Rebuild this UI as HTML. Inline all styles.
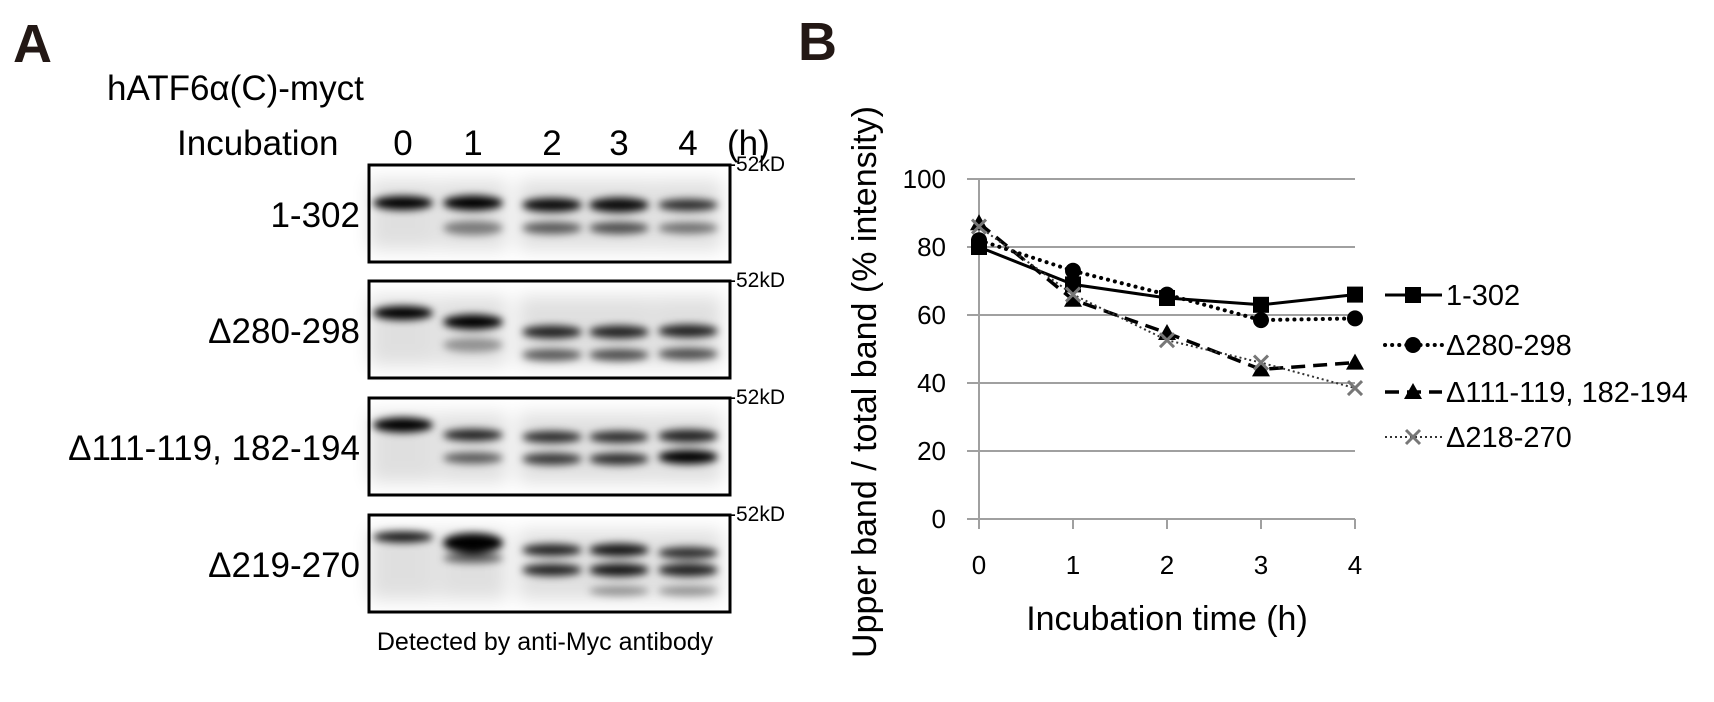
<!DOCTYPE html>
<html><head><meta charset="utf-8"><style>
html,body{margin:0;padding:0;background:#fff;}
body{width:1714px;height:702px;overflow:hidden;position:relative;font-family:"Liberation Sans",Arial,sans-serif;}
svg{position:absolute;left:0;top:0;}
</style></head><body>
<svg id="fig" width="1714" height="702" viewBox="0 0 1714 702">
<defs>
<filter id="blur" x="-50%" y="-50%" width="200%" height="200%"><feGaussianBlur stdDeviation="4"/></filter>
<filter id="blur2" x="-50%" y="-50%" width="200%" height="200%"><feGaussianBlur stdDeviation="9"/></filter>
</defs>
<g id="panelA">
<text x="13" y="62" font-size="54" font-weight="bold" fill="#231815">A</text>
<text x="107" y="100" font-size="35">hATF6α(C)-myct</text>
<text x="177" y="155" font-size="35">Incubation</text>
<g id="laneLabels" font-size="35" text-anchor="middle"></g>
<text x="727" y="155" font-size="35">(h)</text>
<g id="blots"></g>
<text x="545" y="650" font-size="25" text-anchor="middle">Detected by anti-Myc antibody</text>
</g>
<g id="panelB">
<text x="798" y="60" font-size="54" font-weight="bold" fill="#231815">B</text>
<g id="chart"></g>
</g>
</svg>
<script>
const NS='http://www.w3.org/2000/svg';
function mk(tag,attrs,parent){const e=document.createElementNS(NS,tag);for(const k in attrs)e.setAttribute(k,attrs[k]);parent.appendChild(e);return e;}
// ---- Panel A ----
const laneNames=['0','1','2','3','4'];
const laneX=[403,473,552,619,688];
const ll=document.getElementById('laneLabels');
laneNames.forEach((n,i)=>{const t=mk('text',{x:laneX[i],y:155},ll);t.textContent=n;

});
const panels=[
 {name:'1-302',top:165,bands:[[0,38,1,14],[1,38,1,15],[2,40,.95,14],[3,40,.95,15],[4,40,.8,12],[1,63,.45,14],[2,63,.6,12],[3,63,.65,12],[4,63,.5,11]]},
 {name:'Δ280-298',top:281,bands:[[0,32,1,14],[1,41,1,15],[2,51,.85,13],[3,51,.85,13],[4,50,.85,13],[1,64,.35,14],[2,74,.6,12],[3,74,.65,12],[4,73,.65,12]]},
 {name:'Δ111-119, 182-194',top:398,bands:[[0,27,1,15],[1,37,.85,12],[2,39,.8,12],[3,39,.8,12],[4,38,.85,13],[1,60,.6,11],[2,61,.75,12],[3,61,.8,12],[4,59,1,14]]},
 {name:'Δ219-270',top:515,bands:[[0,22,.9,11],[1,28,1,20],[2,35,.85,12],[3,35,.9,13],[4,38,.8,12],[1,43,.6,10],[2,55,.85,12],[3,55,.9,13],[4,55,.85,13],[3,76,.35,10],[4,76,.35,10]]}
];
const blots=document.getElementById('blots');
panels.forEach((p,pi)=>{
 const g=mk('g',{},blots);
 
 
 const lbl=mk('text',{x:360,y:p.top+62,'font-size':35,'text-anchor':'end'},g);lbl.textContent=p.name;
 
 
 const bg=mk('g',{filter:'url(#blur2)',opacity:.12},g);
 laneX.forEach(x=>mk('rect',{x:x-34,y:p.top+15,width:68,height:70,fill:'#000'},bg));
 const bd=mk('g',{filter:'url(#blur)'},g);
 p.bands.forEach(b=>{const e=mk('ellipse',{cx:laneX[b[0]],cy:p.top+b[1],rx:30,ry:b[3]/2,fill:'#000',opacity:b[2]},bd);
  
  });
 const fr=mk('rect',{x:369,y:p.top,width:361,height:97,fill:'none',stroke:'#000','stroke-width':3},g);
 
 
 const mw=mk('text',{x:729,y:p.top+6,'font-size':21},g);mw.textContent='-52kD';
 
 
});
// ---- Panel B chart ----
const categories=[0,1,2,3,4];
const yTicks=[0,20,40,60,80,100];
const seriesNames=['1-302','Δ280-298','Δ111-119, 182-194','Δ218-270'];
const s1=[80,69,65,63,66];
const s2=[82,73,66,58.5,59];
const s3=[87,64.5,54.7,44,46];
const s4=[86,66,52.6,46,38.5];
const seriesVals=[s1,s2,s3,s4];
const X0=979,XS=94,Y0=519,YS=3.4;
const xs=v=>X0+v*XS, ys=v=>Y0-v*YS;
const ch=document.getElementById('chart');
yTicks.forEach(t=>{
 const l=mk('line',{x1:967,x2:1355,y1:ys(t),y2:ys(t),stroke:'#a0a0a0','stroke-width':2},ch);
 
 
 const tx=mk('text',{x:946,y:ys(t)+9,'font-size':26,'text-anchor':'end'},ch);tx.textContent=t;
 
 
});
const ax=mk('line',{x1:X0,x2:X0,y1:ys(100),y2:Y0+10,stroke:'#a0a0a0','stroke-width':2},ch);


categories.forEach(c=>{
 const t=mk('line',{x1:xs(c),x2:xs(c),y1:Y0,y2:Y0+10,stroke:'#a0a0a0','stroke-width':2},ch);
 
 
 const tx=mk('text',{x:xs(c),y:574,'font-size':26,'text-anchor':'middle'},ch);tx.textContent=c;
 
 
});
const yt=mk('text',{x:0,y:0,'font-size':34,'text-anchor':'middle',transform:'translate(876,382) rotate(-90)'},ch);
yt.textContent='Upper band / total band (% intensity)';


const xt=mk('text',{x:1167,y:630,'font-size':34,'text-anchor':'middle'},ch);xt.textContent='Incubation time (h)';


const styles=[
 {dash:'',w:3,col:'#000',cap:'butt'},
 {dash:'0.1 7',w:4,col:'#000',cap:'round'},
 {dash:'14 8',w:3.5,col:'#000',cap:'butt'},
 {dash:'2 3',w:2,col:'#333',cap:'butt'}];
function marker(type,x,y,parent){
 let e;
 if(type===0)e=mk('rect',{x:x-8,y:y-8,width:16,height:16,fill:'#000'},parent);
 else if(type===1)e=mk('circle',{cx:x,cy:y,r:8,fill:'#000'},parent);
 else if(type===2)e=mk('polygon',{points:`${x},${y-9} ${x+9},${y+7} ${x-9},${y+7}`,fill:'#000'},parent);
 else {e=mk('path',{d:`M${x-7},${y-7}L${x+7},${y+7}M${x+7},${y-7}L${x-7},${y+7}`,stroke:'#777','stroke-width':3},parent);}
 return e;
}
const legY=[295,345,392,437];
seriesVals.forEach((vals,si)=>{
 const g=mk('g',{},ch);
 
 
 const st=styles[si];
 const pts=vals.map((v,i)=>xs(categories[i])+','+ys(v)).join(' ');
 const pl=mk('polyline',{points:pts,fill:'none',stroke:st.col,'stroke-width':st.w,'stroke-dasharray':st.dash,'stroke-linecap':st.cap},g);
 
 
 vals.forEach((v,i)=>{const m=marker(si,xs(categories[i]),ys(v),g);
  
  });
 const lg=mk('g',{},ch);
 
 
 mk('line',{x1:1385,x2:1442,y1:legY[si],y2:legY[si],stroke:st.col,'stroke-width':st.w,'stroke-dasharray':st.dash,'stroke-linecap':st.cap},lg);
 marker(si,1413,legY[si],lg);
 const lt=mk('text',{x:1446,y:legY[si]+10,'font-size':29},lg);lt.textContent=seriesNames[si];
});
</script>
</body></html>
